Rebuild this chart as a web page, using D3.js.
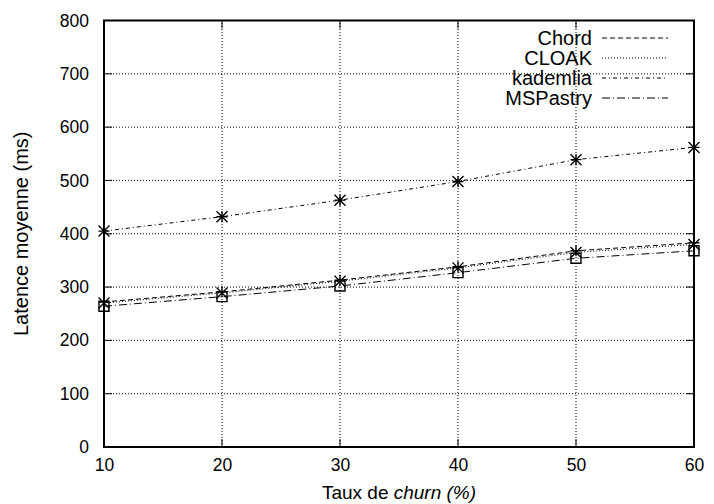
<!DOCTYPE html>
<html><head><meta charset="utf-8">
<script src="https://cdn.jsdelivr.net/npm/d3@7"></script>
<style>body{margin:0;background:#fff}svg{display:block}text{font-family:"Liberation Sans",Arial,sans-serif;fill:#000}</style>
</head><body><svg id="c" width="714" height="504"></svg>
<script>
const churn = [10, 20, 30, 40, 50, 60];
const chord = [272, 291, 313, 338, 368, 383];
const cloak = [270, 289, 311, 336, 365, 380];
const kademlia = [405, 432, 463, 498, 539, 562];
const mspastry = [264, 282, 302, 327, 354, 368];
const xTicks = [10, 20, 30, 40, 50, 60];
const yTicks = [0, 100, 200, 300, 400, 500, 600, 700, 800];

const series = [
  {name: "Chord", values: chord, dash: "5,3", marker: "plus"},
  {name: "CLOAK", values: cloak, dash: "1,2", marker: "cross"},
  {name: "kademlia", values: kademlia, dash: "4,3,1,3", marker: "star"},
  {name: "MSPastry", values: mspastry, dash: "8,3,1,3", marker: "square"}
];

const L = 104, R = 694, T = 20.5, B = 447;
const svg = d3.select("#c");
const x = d3.scaleLinear().domain([10, 60]).range([L, R]);
const y = d3.scaleLinear().domain([0, 800]).range([B, T]);

// grid
const g = svg.append("g");
g.selectAll(".gx").data(xTicks.slice(1, -1)).enter().append("line")
  .attr("x1", d => x(d)).attr("x2", d => x(d)).attr("y1", B).attr("y2", T)
  .attr("stroke", "#000").attr("stroke-width", 1).attr("stroke-dasharray", "1,2");
g.selectAll(".gy").data(yTicks.slice(1, -1)).enter().append("line")
  .attr("y1", d => y(d)).attr("y2", d => y(d)).attr("x1", L).attr("x2", R)
  .attr("stroke", "#000").attr("stroke-width", 1).attr("stroke-dasharray", "1,2");

// ticks (inward, mirrored)
const tk = 8;
g.selectAll(".tl").data(yTicks).enter().append("line")
  .attr("x1", L).attr("x2", L + tk).attr("y1", d => y(d)).attr("y2", d => y(d)).attr("stroke", "#000");
g.selectAll(".tr").data(yTicks).enter().append("line")
  .attr("x1", R).attr("x2", R - tk).attr("y1", d => y(d)).attr("y2", d => y(d)).attr("stroke", "#000");
g.selectAll(".tb").data(xTicks).enter().append("line")
  .attr("x1", d => x(d)).attr("x2", d => x(d)).attr("y1", B).attr("y2", B - tk).attr("stroke", "#000");
g.selectAll(".tt").data(xTicks).enter().append("line")
  .attr("x1", d => x(d)).attr("x2", d => x(d)).attr("y1", T).attr("y2", T + tk).attr("stroke", "#000");

// axis labels
const yAxis = d3.axisLeft(y).tickValues(yTicks).tickSize(0).tickPadding(15);
const ya = svg.append("g").attr("transform", `translate(${L},0)`).call(yAxis);
ya.select(".domain").remove();
ya.selectAll("text").style("font-size", "17.5px").style("font-family", "Liberation Sans, Arial, sans-serif");
const xAxis = d3.axisBottom(x).tickValues(xTicks).tickSize(0).tickPadding(12);
const xa = svg.append("g").attr("transform", `translate(0,${B})`).call(xAxis);
xa.select(".domain").remove();
xa.selectAll("text").style("font-size", "17.5px").style("font-family", "Liberation Sans, Arial, sans-serif");

// border
svg.append("rect").attr("x", L).attr("y", T).attr("width", R - L).attr("height", B - T)
  .attr("fill", "none").attr("stroke", "#000").attr("stroke-width", 2);

// lines
const line = d3.line().x((d, i) => x(churn[i])).y(d => y(d));
series.forEach(s => {
  svg.append("path").datum(s.values).attr("d", line)
    .attr("fill", "none").attr("stroke", "#000").attr("stroke-width", 1)
    .attr("stroke-dasharray", s.dash);
});

// markers
const ms = 5.5;
function marker(sel, type, cx, cy) {
  const p = d3.path();
  if (type === "plus" || type === "star") {
    p.moveTo(cx - ms, cy); p.lineTo(cx + ms, cy);
    p.moveTo(cx, cy - ms); p.lineTo(cx, cy + ms);
  }
  if (type === "cross" || type === "star") {
    p.moveTo(cx - ms, cy - ms); p.lineTo(cx + ms, cy + ms);
    p.moveTo(cx - ms, cy + ms); p.lineTo(cx + ms, cy - ms);
  }
  if (type === "square") {
    p.rect(cx - ms + 0.5, cy - ms + 0.5, 2 * ms - 1, 2 * ms - 1);
  }
  sel.append("path").attr("d", p.toString()).attr("fill", "none").attr("stroke", "#000").attr("stroke-width", 1.4);
}
series.forEach(s => {
  s.values.forEach((v, i) => marker(svg, s.marker, x(churn[i]), y(v)));
});

// legend
const lg = svg.append("g");
series.forEach((s, i) => {
  const cy = 38 + i * 20;
  lg.append("text").attr("x", 592).attr("y", cy).attr("dy", "0.35em").attr("text-anchor", "end")
    .style("font-size", "20px").text(s.name);
  lg.append("line").attr("x1", 602).attr("x2", 668).attr("y1", cy).attr("y2", cy)
    .attr("stroke", "#000").attr("stroke-width", 1).attr("stroke-dasharray", s.dash);
});

// titles
svg.append("text").attr("transform", `translate(28,${(T + B) / 2}) rotate(-90)`)
  .attr("text-anchor", "middle").style("font-size", "20px").text("Latence moyenne (ms)");
const xt = svg.append("text").attr("x", (L + R) / 2).attr("y", 499).attr("text-anchor", "middle").style("font-size", "19px");
xt.append("tspan").text("Taux de ");
xt.append("tspan").style("font-style", "italic").text("churn (%)");
</script></body></html>
